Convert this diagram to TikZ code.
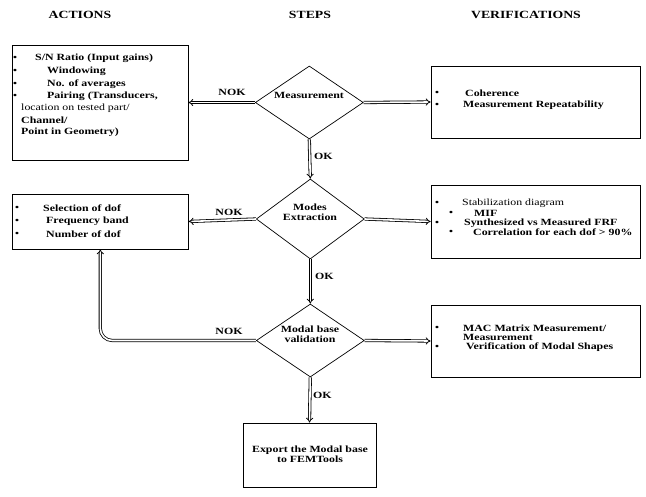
\documentclass[tikz,border=0pt]{standalone}
\usepackage{fontspec}
\setmainfont[FakeStretch=1.25]{Liberation Serif}
\usetikzlibrary{shapes.geometric}
\usetikzlibrary{arrows.meta}

\begin{document}
\begin{tikzpicture}[x=1pt,y=-1pt,font=\fontsize{9.5}{10}\selectfont\bfseries,
  box/.style={draw, line width=0.7pt, rectangle, inner sep=0},
  decision/.style={draw, line width=0.7pt, diamond, inner sep=0, minimum width=108, minimum height=73},
  dbl/.style={double, line width=0.8pt, double distance=1.6pt, -{Implies}},
  ln/.style={anchor=west, inner sep=0},
  reg/.style={anchor=west, inner sep=0, font=\fontsize{9.5}{10}\selectfont\mdseries},
  bul/.style={inner sep=0, font=\fontsize{9}{9}\selectfont\bfseries},
  head/.style={font=\fontsize{11}{12}\selectfont\bfseries}]

\useasboundingbox (0,0) rectangle (646,497);

% column titles
\node [head] (hact) at (80,15) {ACTIONS};
\node [head] (hstp) at (310,15) {STEPS};
\node [head] (hver) at (526,15) {VERIFICATIONS};

% steps
\node [decision] (meas) at (309.3,102.5) {};
\node (tmeas) at (309,95) {Measurement};
\node [decision, minimum height=80] (modes) at (310.3,219) {};
\node [align=center] (tmodes) at (310,212) {Modes\\Extraction};
\node [decision] (valid) at (310.3,340.5) {};
\node [align=center] (tvalid) at (310,334.5) {Modal base\\validation};
\node [box, minimum width=133, minimum height=64] (export) at (309.5,455) {};
\node [align=center] (texp) at (310,454) {Export the Modal base\\to FEMTools};

% actions
\node [box, minimum width=176, minimum height=115] (act1) at (100,102.5) {};
\node [bul] (b11) at (15,58) {\textbullet};
\node [bul] (b12) at (15,71) {\textbullet};
\node [bul] (b13) at (15,84) {\textbullet};
\node [bul] (b14) at (15,96) {\textbullet};
\node [ln] (t11) at (35,58) {S/N Ratio (Input gains)};
\node [ln] (t12) at (47,71) {Windowing};
\node [ln] (t13) at (47,84) {No. of averages};
\node [ln] (t14) at (47,96) {Pairing (Transducers,};
\node [reg] (t15) at (21,108) {location on tested part/};
\node [ln] (t16) at (21,120) {Channel/};
\node [ln] (t17) at (21,132) {Point in Geometry)};

\node [box, minimum width=176, minimum height=55] (act2) at (100.3,221.5) {};
\node [bul] (b21) at (17,208) {\textbullet};
\node [bul] (b22) at (17,221) {\textbullet};
\node [bul] (b23) at (17,234) {\textbullet};
\node [ln] (t21) at (43,208) {Selection of dof};
\node [ln] (t22) at (46,221) {Frequency band};
\node [ln] (t23) at (46,234) {Number of dof};

% verifications
\node [box, minimum width=209, minimum height=72] (ver1) at (535.5,102) {};
\node [bul] (b31) at (437,93) {\textbullet};
\node [bul] (b32) at (437,105) {\textbullet};
\node [ln] (t31) at (465,93) {Coherence};
\node [ln] (t32) at (463,105) {Measurement Repeatability};

\node [box, minimum width=209, minimum height=73] (ver2) at (535.5,221.5) {};
\node [bul] (b41) at (437,203) {\textbullet};
\node [bul] (b42) at (451,213) {\textbullet};
\node [bul] (b43) at (437,223) {\textbullet};
\node [bul] (b44) at (451,232) {\textbullet};
\node [reg] (t41) at (462,203) {Stabilization diagram};
\node [ln] (t42) at (474,213) {MIF};
\node [ln] (t43) at (464,223) {Synthesized vs Measured FRF};
\node [ln] (t44) at (473,232) {Correlation for each dof > 90\%};

\node [box, minimum width=209, minimum height=72] (ver3) at (535.5,341) {};
\node [bul] (b51) at (437,328) {\textbullet};
\node [bul] (b52) at (437,347) {\textbullet};
\node [ln] (t51) at (463,328) {MAC Matrix Measurement/};
\node [ln] (t52) at (463,337.5) {Measurement};
\node [ln] (t53) at (466,347) {Verification of Modal Shapes};

% connectors
\draw [dbl] (meas.west) -- (act1.east);
\draw [dbl] (meas.east) -- (ver1.west);
\draw [dbl] (meas.south) -- (modes.north);
\draw [dbl] (modes.west) -- (act2.east);
\draw [dbl] (modes.east) -- (ver2.west);
\draw [dbl] (modes.south) -- (valid.north);
\draw [dbl] (valid.east) -- (ver3.west);
\draw [dbl] (valid.south) -- (export.north);
\coordinate (back) at (100.3,340.5);
\draw [dbl, rounded corners=12] (valid.west) -- (back) -- (act2.south);

% labels
\node (nok1) at (232,92) {NOK};
\node (nok2) at (229,212) {NOK};
\node (nok3) at (229,331) {NOK};
\node [ln] (ok1) at (314,156) {OK};
\node [ln] (ok2) at (315,276) {OK};
\node [ln] (ok3) at (313,395) {OK};

\end{tikzpicture}
\end{document}
